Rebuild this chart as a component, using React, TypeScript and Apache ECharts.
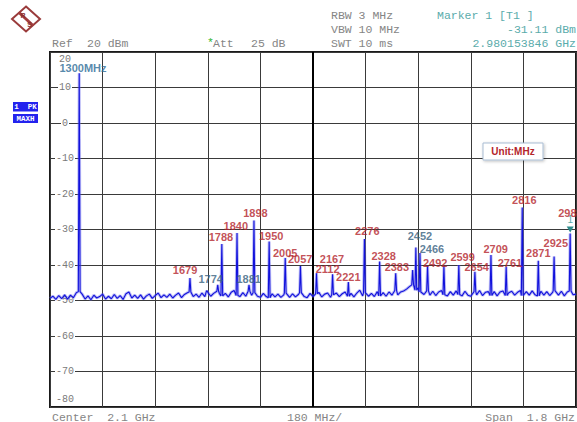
import React, { useEffect, useRef } from "react";
import * as echarts from "echarts";

// Axis set-up (spectrum analyser: 1.2 .. 3.0 GHz, 180 MHz/div, Ref 20 dBm, 10 dB/div)
const START_MHZ = 1200;
const SPAN_MHZ = 1800;
const DIV_MHZ = 180;
const REF_DBM = 20;
const BOTTOM_DBM = -80;
const DB_DIV = 10;

// Noise floor, one sample every 10 MHz from 1200 MHz
const floorStepMHz = 10;
const floorDbm = [
  -49.4, -48.8, -49.7, -48.6, -49.5, -48.4, -49.6, -48.5, -49.2, -47.8,
  -47.5, -48.2, -49.6, -48.7, -49.8, -48.5, -49.3, -48.9, -48.2, -49.6,
  -48.8, -49.5, -48.3, -49.4, -48.6, -49.7, -48.1, -47.6, -49.3, -48.5,
  -49.4, -48.4, -49.6, -48.7, -48.2, -49.4, -48.6, -47.9, -49.2, -48.4,
  -49.1, -48.2, -49.3, -48.5, -47.9, -49.2, -48.3, -47.8, -47.6, -48.9,
  -48.2, -49.1, -47.9, -48.9, -47.7, -48.8, -48.0, -47.4, -48.1, -48.7,
  -48.0, -49.0, -47.7, -47.2, -48.6, -48.9, -47.8, -48.8, -47.4, -48.5,
  -47.8, -48.8, -49.1, -48.0, -48.9, -49.2, -48.1, -49.0, -48.2, -49.1,
  -48.4, -47.9, -49.1, -48.1, -49.0, -48.3, -47.8, -48.9, -49.2, -48.0,
  -48.9, -48.1, -47.7, -49.0, -48.2, -47.9, -49.1, -48.4, -47.9, -48.9,
  -48.1, -47.6, -48.8, -48.0, -49.0, -47.9, -47.1, -48.7, -47.8, -48.8,
  -48.0, -48.9, -47.5, -48.7, -47.8, -48.8, -47.6, -48.5, -47.2, -48.4,
  -47.6, -47.3, -46.8, -46.1, -45.6, -47.1, -46.4, -47.6, -48.3, -47.3,
  -48.5, -47.4, -48.6, -47.6, -47.2, -48.4, -48.7, -47.5, -48.5, -47.3,
  -48.3, -48.7, -47.4, -48.5, -48.8, -47.5, -48.4, -47.2, -48.6, -47.7,
  -47.5, -48.6, -47.5, -48.7, -47.6, -47.3, -48.6, -47.8, -47.4, -48.5,
  -47.7, -47.2, -48.6, -47.5, -48.5, -47.3, -48.4, -48.7, -47.4, -48.5,
  -47.5, -48.6, -47.7, -47.2, -48.5, -47.4, -48.7, -47.6, -47.3, -48.4,
  -48.2,
];

// Spectral lines (MHz, dBm)
const peakMHz = [
  1300, 1679, 1737, 1774, 1788, 1840, 1881, 1898, 1950, 2005, 2057, 2112,
  2167, 2221, 2276, 2328, 2383, 2441, 2452, 2466, 2492, 2548, 2599, 2654,
  2709, 2761, 2816, 2871, 2925, 2980,
];
const peakDbm = [
  14.0, -43.7, -47.2, -45.6, -34.1, -31.0, -45.6, -27.5, -33.4, -38.0, -40.3, -42.3,
  -42.6, -44.8, -32.7, -39.0, -42.3, -41.4, -35.1, -36.6, -40.3, -40.3, -40.0, -41.9,
  -37.2, -40.5, -23.8, -38.8, -37.6, -31.1,
];

// Frequency annotations (text, anchor in MHz / dBm, tone)
const labelTexts = [
  "1300MHz", "1679", "1774", "1788", "1840", "1898", "1881", "1950", "2005",
  "2057", "2112", "2167", "2221", "2276", "2328", "2383", "2452", "2466",
  "2492", "2599", "2654", "2709", "2761", "2816", "2871", "2925", "2980",
];
const labelMHz = [
  1313, 1662, 1750, 1785, 1836, 1903, 1880, 1957, 2005,
  2056, 2150, 2165, 2221, 2286, 2342, 2387, 2466, 2507,
  2518, 2612, 2660, 2725, 2774, 2823, 2871, 2931, 2981,
];
const labelDbm = [
  15.4, -41.4, -44.0, -32.2, -29.0, -25.4, -44.0, -31.7, -36.5,
  -38.4, -41.2, -38.4, -43.5, -30.3, -37.5, -40.5, -31.8, -35.6,
  -39.4, -37.7, -40.5, -35.5, -39.4, -21.7, -36.7, -33.9, -25.4,
];
const labelTone = [
  "s", "r", "b", "r", "r", "r", "b", "r", "r",
  "r", "r", "r", "r", "r", "r", "r", "b", "b",
  "r", "r", "r", "r", "r", "r", "r", "r", "r",
];

const markerMHz = 2980.15;
const markerDbm = -31.11;

const toneColor: Record<string, string> = {
  r: "#b3242b",
  b: "#35607e",
  s: "#2b6a96",
};

function buildTrace(): number[][] {
  const pts: number[][] = [];
  floorDbm.forEach((v, i) => {
    const f = START_MHZ + i * floorStepMHz;
    if (peakMHz.some((p) => Math.abs(p - f) < 5)) return;
    pts.push([f - START_MHZ, v]);
  });
  peakMHz.forEach((p, i) => {
    const idx = Math.min(floorDbm.length - 1, Math.round((p - START_MHZ) / floorStepMHz));
    const base = floorDbm[idx];
    pts.push([p - 3 - START_MHZ, base]);
    pts.push([p - START_MHZ, peakDbm[i]]);
    pts.push([p + 3 - START_MHZ, base]);
  });
  pts.sort((a, b) => a[0] - b[0]);
  return pts;
}

const MONO = '"Liberation Mono", "DejaVu Sans Mono", monospace';
const HEAD_FONT = `11.5px ${MONO}`;
const GRAY = "#858585";
const TEAL = "#5aabab";

function txt(text: string, x: number, y: number, fill = GRAY, align = "left", font = HEAD_FONT) {
  return {
    type: "text",
    x,
    y,
    silent: true,
    style: { text, fill, font, textAlign: align, textVerticalAlign: "middle" },
  };
}

export default function App() {
  const ref = useRef<HTMLDivElement>(null);

  useEffect(() => {
    document.body.style.margin = "0";
    if (!ref.current) return;
    const chart = echarts.init(ref.current, null, { renderer: "svg" });

    const trace = buildTrace();
    const labelData = labelTexts.map((t, i) => ({
      value: [labelMHz[i] - START_MHZ, labelDbm[i]],
      name: t,
      label: { color: toneColor[labelTone[i]] },
    }));

    const option: any = {
      animation: false,
      backgroundColor: "#ffffff",
      grid: {
        left: 50,
        right: 1,
        top: 52,
        bottom: 15,
        show: true,
        borderColor: "#1a1a1a",
        borderWidth: 2,
        backgroundColor: "transparent",
      },
      xAxis: {
        type: "value",
        min: 0,
        max: SPAN_MHZ,
        interval: DIV_MHZ,
        axisLine: { show: false },
        axisTick: { show: false },
        axisLabel: { show: false },
        splitLine: { show: true, lineStyle: { color: "#3a3a3a", width: 1 } },
      },
      yAxis: {
        type: "value",
        min: BOTTOM_DBM,
        max: REF_DBM,
        interval: DB_DIV,
        axisLine: { show: false },
        axisTick: { show: false },
        splitLine: { show: true, lineStyle: { color: "#3a3a3a", width: 1 } },
        axisLabel: {
          inside: true,
          align: "center",
          margin: 15,
          formatter: (v: number) =>
            v === REF_DBM ? `{t|${v}}` : v === BOTTOM_DBM ? `{b|${v}}` : `{m|${v}}`,
          rich: {
            t: { fontFamily: MONO, fontSize: 10, color: "#7a7a7a", padding: [14, 0, 0, 0] },
            b: { fontFamily: MONO, fontSize: 10, color: "#7a7a7a", padding: [0, 0, 16, 0] },
            m: {
              fontFamily: MONO,
              fontSize: 10,
              color: "#7a7a7a",
              backgroundColor: "#ffffff",
              padding: [0, 1, 0, 1],
            },
          },
        },
      },
      series: [
        {
          type: "line",
          data: trace,
          showSymbol: false,
          symbol: "none",
          lineStyle: { color: "rgba(110,110,235,0.45)", width: 3 },
          silent: true,
          z: 3,
          markLine: {
            silent: true,
            symbol: ["none", "none"],
            label: { show: false },
            lineStyle: { color: "#000000", width: 2, type: "solid" },
            data: [{ xAxis: SPAN_MHZ / 2 }],
            z: 2,
          },
        },
        {
          type: "line",
          data: trace,
          showSymbol: false,
          symbol: "none",
          lineStyle: { color: "#1212dc", width: 1.1 },
          silent: true,
          z: 4,
          markPoint: {
            silent: true,
            symbol: "triangle",
            symbolSize: [7, 6],
            symbolRotate: 180,
            symbolOffset: [0, -4],
            itemStyle: { color: "#2e8b8b" },
            label: {
              show: true,
              position: "top",
              distance: 2,
              formatter: "1",
              color: TEAL,
              fontFamily: "Liberation Sans, Arial, sans-serif",
              fontSize: 10,
            },
            data: [{ coord: [markerMHz - START_MHZ, markerDbm] }],
          },
        },
        {
          type: "scatter",
          data: labelData,
          symbolSize: 0,
          silent: true,
          z: 5,
          label: {
            show: true,
            position: "inside",
            formatter: (p: any) => p.name,
            fontFamily: '"Liberation Sans", Arial, sans-serif',
            fontWeight: "bold",
            fontSize: 11,
          },
        },
      ],
      graphic: [
        // R&S logo
        {
          type: "polygon",
          silent: true,
          shape: { points: [[26, 6.5], [40, 19], [26, 31.5], [12, 19]] },
          style: { fill: "#ffffff", stroke: "#9a3b3b", lineWidth: 2 },
        },
        {
          type: "line",
          silent: true,
          shape: { x1: 19, y1: 12.5, x2: 33, y2: 25.5 },
          style: { stroke: "#a23c3c", lineWidth: 3 },
        },
        txt("R", 23, 15, "#8a3030", "center", 'bold 7px "Liberation Sans", Arial'),
        txt("S", 29.5, 24, "#8a3030", "center", 'bold 7px "Liberation Sans", Arial'),
        // header
        txt("Ref", 52, 43),
        txt("20 dBm", 87, 43),
        txt("*", 207, 42, "#2db52d"),
        txt("Att", 213, 43),
        txt("25 dB", 251, 43),
        txt("RBW 3 MHz", 331, 15),
        txt("VBW 10 MHz", 331, 29),
        txt("SWT 10 ms", 331, 43),
        txt("Marker 1 [T1 ]", 437, 15, TEAL),
        txt("-31.11 dBm", 576, 29, TEAL, "right"),
        txt("2.980153846 GHz", 576, 43, TEAL, "right"),
        // footer
        txt("Center  2.1 GHz", 52, 417),
        txt("180 MHz/", 287, 417),
        txt("Span  1.8 GHz", 575, 417, GRAY, "right"),
        // trace tags
        {
          type: "rect",
          silent: true,
          shape: { x: 13, y: 102, width: 25, height: 9.5 },
          style: { fill: "#2323ee" },
        },
        txt("1  PK", 25.5, 107, "#ffffff", "center", `bold 7.5px ${MONO}`),
        {
          type: "rect",
          silent: true,
          shape: { x: 13, y: 114, width: 25, height: 9 },
          style: { fill: "#2323ee" },
        },
        txt("MAXH", 25.5, 118.5, "#ffffff", "center", `bold 7.5px ${MONO}`),
        // unit box
        {
          type: "rect",
          silent: true,
          z: 10,
          shape: { x: 483, y: 143, width: 60, height: 17 },
          style: {
            fill: "#ffffff",
            stroke: "#a9bdd3",
            lineWidth: 1,
            shadowBlur: 3,
            shadowColor: "rgba(0,0,0,0.25)",
            shadowOffsetX: 1,
            shadowOffsetY: 1,
          },
        },
        {
          type: "text",
          silent: true,
          z: 11,
          x: 513,
          y: 151.5,
          style: {
            text: "Unit:MHz",
            fill: "#b3242b",
            font: 'bold 10px "Liberation Sans", Arial, sans-serif',
            textAlign: "center",
            textVerticalAlign: "middle",
          },
        },
      ],
    };

    chart.setOption(option);
    return () => chart.dispose();
  }, []);

  return <div ref={ref} style={{ width: 577, height: 422 }} />;
}
